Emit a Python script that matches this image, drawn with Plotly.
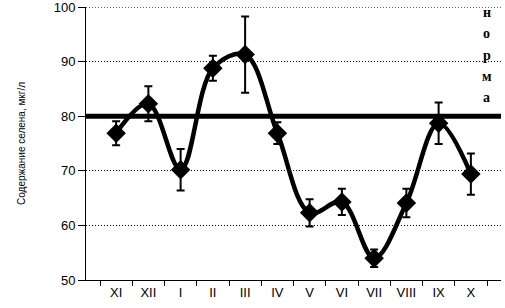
import plotly.graph_objects as go

months = ["XI", "XII", "I", "II", "III", "IV", "V", "VI", "VII", "VIII", "IX", "X"]
selenium = [76.9, 82.3, 70.2, 88.8, 91.3, 76.9, 62.3, 64.3, 54.0, 64.1, 78.7, 69.4]
errors = [2.2, 3.2, 3.8, 2.3, 7.0, 2.0, 2.5, 2.4, 1.6, 2.6, 3.8, 3.8]
norm_value = 80
norm_letters = ["н", "о", "р", "м", "а"]
y_ticks = [50, 60, 70, 80, 90, 100]

fig = go.Figure()
fig.add_trace(go.Scatter(
    x=months, y=selenium,
    mode="lines+markers",
    line=dict(color="black", width=4.5, shape="spline", smoothing=1.0),
    marker=dict(symbol="diamond", size=15, color="black"),
    error_y=dict(type="data", array=errors, visible=True, color="black", thickness=2, width=4),
    showlegend=False,
))

# top gridline (Plotly skips the gridline at the range edge)
fig.add_shape(type="line", xref="paper", x0=0, x1=1, yref="y", y0=y_ticks[-1], y1=y_ticks[-1],
              line=dict(color="black", width=1, dash="1px,2px"), layer="below")

fig.add_shape(type="line", xref="paper", x0=0, x1=1, yref="y", y0=norm_value, y1=norm_value,
              line=dict(color="black", width=5), layer="above")

for i, ch in enumerate(norm_letters):
    fig.add_annotation(
        text=ch, xref="paper", yref="paper", x=0.966, y=1.0 - i * 0.078 - 0.02,
        xanchor="center", yanchor="middle", showarrow=False,
        font=dict(family="Liberation Serif", size=14, color="black", weight="bold"),
    )

fig.update_layout(
    width=505, height=308,
    margin=dict(l=86, r=4, t=7, b=28, autoexpand=False),
    paper_bgcolor="white", plot_bgcolor="white",
    font=dict(family="Liberation Sans", color="black", size=13),
)
fig.update_xaxes(
    type="category", showline=True, linecolor="black", linewidth=1,
    ticks="outside", tickson="boundaries", ticklen=5, tickcolor="black",
    showgrid=False, tickfont=dict(size=13), automargin=False,
)
fig.update_yaxes(
    range=[50, 100.02], tickvals=y_ticks, showline=True, linecolor="black", linewidth=1,
    ticks="outside", ticklen=7, tickcolor="black", ticklabeloverflow="allow",
    showgrid=True, gridcolor="black", griddash="1px,2px", gridwidth=1,
    zeroline=False, tickfont=dict(size=13), automargin=False,
    title=dict(text="Содержание селена, мкг/л", font=dict(size=10), standoff=26),
)

fig.write_html("out.html", config={"displayModeBar": False},
               post_script="document.body.style.margin='0';document.body.style.overflow='hidden';")
